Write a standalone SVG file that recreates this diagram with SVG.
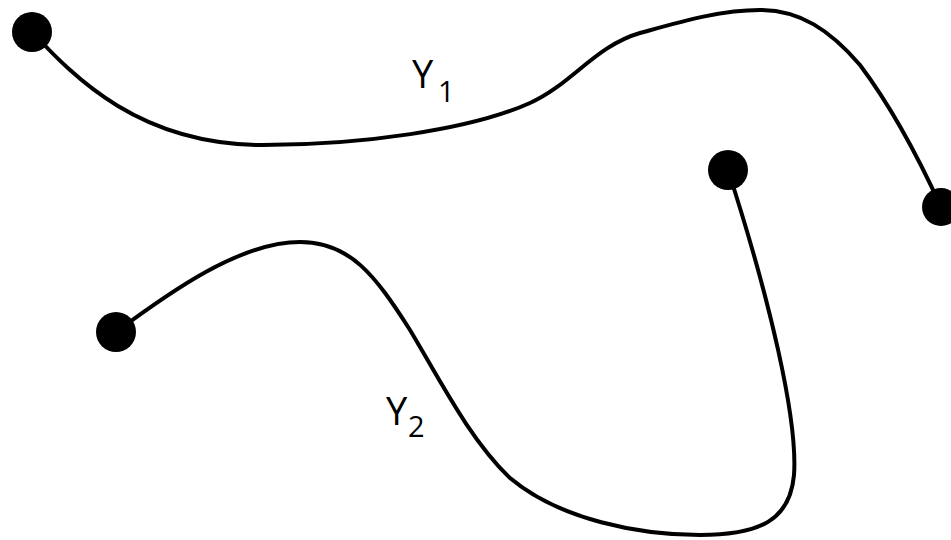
<svg xmlns="http://www.w3.org/2000/svg" width="951" height="540" viewBox="0 0 951 540">
<style>
.c{fill:none;stroke:#000;stroke-width:4;stroke-linecap:round}
.d{fill:#000}
.t{font-family:"Open Sans","Liberation Sans",sans-serif;fill:#000}
</style>
<rect width="951" height="540" fill="#fff"/>
<g id="connectors">
<path class="c" d="M32,32 C75,78 140,145 263,145 C360,145 470,130 530,103 C572,84 595,46 640,33 C680,22 720,10 760,10 C800,10 830,30 860,65 C890,105 915,150 941,207"/>
<path class="c" d="M116,332 C170,292 240,242 300,242 C350,242 375,275 410,330 C440,380 470,440 510,478 C560,520 640,535 700,535 C760,535 790,520 794,475 C798,420 770,300 728,170"/>
</g>
<g id="n1"><circle class="d" cx="32" cy="32" r="20"/></g>
<g id="n2"><circle class="d" cx="941" cy="207" r="19"/></g>
<g id="n3"><circle class="d" cx="728" cy="170" r="20"/></g>
<g id="n4"><circle class="d" cx="116" cy="332" r="20"/></g>
<g id="l1"><text class="t" x="412" y="88" font-size="38">Y</text><text class="t" x="438" y="102" font-size="29">1</text></g>
<g id="l2"><text class="t" x="386" y="425" font-size="38">Y</text><text class="t" x="408" y="437" font-size="29">2</text></g>
</svg>
